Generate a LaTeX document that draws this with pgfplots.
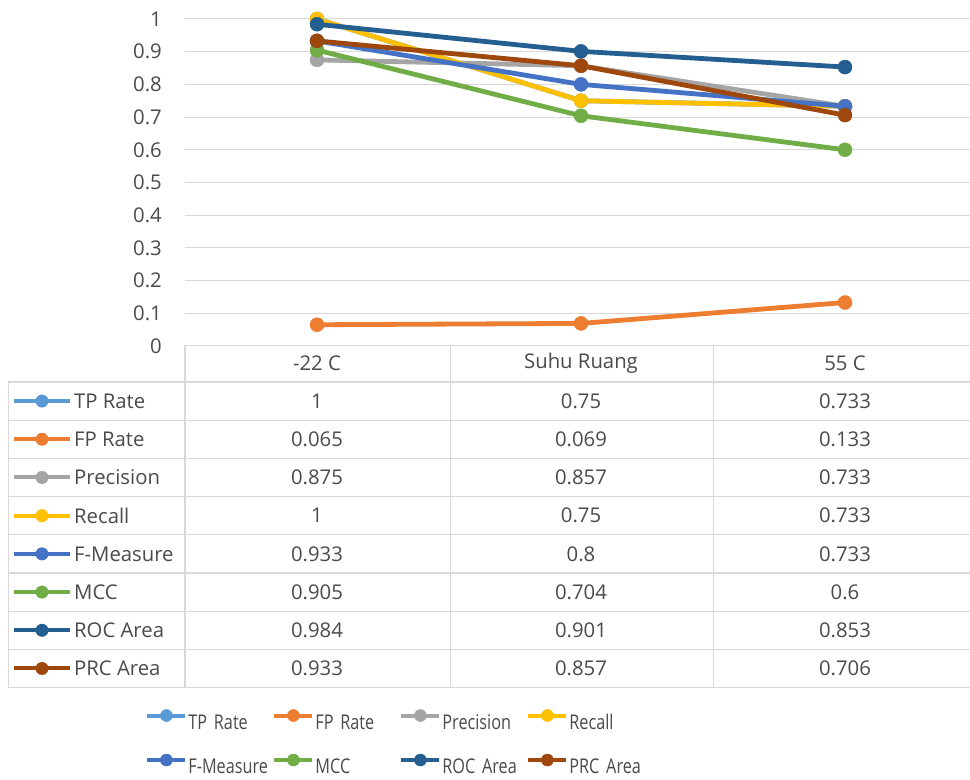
\documentclass[border=0pt]{standalone}
\usepackage{fontspec}
\setmainfont{Open Sans}
\newfontfamily\legfont[FakeStretch=0.8]{Open Sans}
\usepackage{pgfplots}
\usepackage{pgfplotstable}
\pgfplotsset{compat=1.18}

\definecolor{cTP}{HTML}{5B9BD5}
\definecolor{cFP}{HTML}{ED7D31}
\definecolor{cPrec}{HTML}{A5A5A5}
\definecolor{cRec}{HTML}{FFC000}
\definecolor{cF}{HTML}{4472C4}
\definecolor{cMCC}{HTML}{70AD47}
\definecolor{cROC}{HTML}{255E91}
\definecolor{cPRC}{HTML}{9E480E}
\definecolor{txt}{HTML}{4A4A4A}
\definecolor{gridc}{HTML}{D9D9D9}

% metrics per test condition (0 = -22 C, 1 = Suhu Ruang, 2 = 55 C)
\pgfplotstableread{
x TP FP Prec Rec F MCC ROC PRC
0 1 0.065 0.875 1 0.933 0.905 0.984 0.933
1 0.75 0.069 0.857 0.75 0.8 0.704 0.901 0.857
2 0.733 0.133 0.733 0.733 0.733 0.6 0.853 0.706
}\data

\begin{document}
\fontsize{20.3bp}{24bp}\selectfont
\begin{tikzpicture}[x=1bp,y=1bp]
\path[use as bounding box] (0,0) rectangle (970,780);
\begin{axis}[
  at={(185bp,434bp)}, anchor=south west,
  scale only axis, width=792bp, height=327bp,
  xmin=-0.5, xmax=2.5, ymin=0, ymax=1,
  clip=false,
  axis line style={draw=none},
  xtick=\empty,
  ytick={0,0.1,0.2,0.3,0.4,0.5,0.6,0.7,0.8,0.9,1},
  yticklabels={0,0.1,0.2,0.3,0.4,0.5,0.6,0.7,0.8,0.9,1},
  major tick length=0pt,
  ymajorgrids,
  grid style={draw=gridc, line width=1bp},
  yticklabel style={text=txt, anchor=east, inner sep=0pt, xshift=-23bp},
  every axis plot post/.append style={line width=4.8bp, line join=round,
    mark=*, mark size=7bp, mark options={solid, line width=0.5bp}},
  legend columns=4,
  legend cell align=left,
  legend image code/.code={\draw[mark repeat=2,mark phase=2,#1,
    line width=4bp, mark size=6bp, yshift=6bp]
    plot coordinates {(2bp,0bp) (21bp,0bp) (40bp,0bp)};},
  legend style={at={(axis description cs:-0.054,-1.105)}, anchor=north west,
    draw=none, fill=none, column sep=0pt, row sep=25bp,
    font=\legfont\fontsize{20.3bp}{24bp}\selectfont, text=txt,
    nodes={text width=83bp, inner xsep=1bp, inner ysep=0pt,
      text height=15bp, text depth=0bp, align=left}},
]
\addplot[color=cTP] table[x=x, y=TP] {\data};   \addlegendentry{TP Rate}
\addplot[color=cFP] table[x=x, y=FP] {\data};   \addlegendentry{FP Rate}
\addplot[color=cPrec] table[x=x, y=Prec] {\data}; \addlegendentry{Precision}
\addplot[color=cRec] table[x=x, y=Rec] {\data}; \addlegendentry{Recall}
\addplot[color=cF] table[x=x, y=F] {\data};     \addlegendentry{F-Measure}
\addplot[color=cMCC] table[x=x, y=MCC] {\data}; \addlegendentry{MCC}
\addplot[color=cROC] table[x=x, y=ROC] {\data}; \addlegendentry{ROC Area}
\addplot[color=cPRC] table[x=x, y=PRC] {\data}; \addlegendentry{PRC Area}
\end{axis}

% data table below the plot (y measured downward from the top edge)
\begin{scope}[draw=gridc, line width=1.2bp]
  \foreach \r in {382,420.2,458.4,496.6,534.8,573,611.2,649.4,687.6}
    \draw (8.3,780-\r) -- (980,780-\r);
  \foreach \c in {185,450.7,713.3}
    \draw (\c,780-345) -- (\c,780-687.6);
  \draw (8.3,780-382) -- (8.3,780-687.6);
\end{scope}

% column headers
\node[text=txt] at (317,780-363.5) {-22 C};
\node[text=txt] at (581,780-363.5) {Suhu Ruang};
\node[text=txt] at (845,780-363.5) {55 C};

% rows: key, name and the three values
\foreach \name/\col/\key [count=\i from 0] in
  {TP Rate/cTP/TP, FP Rate/cFP/FP, Precision/cPrec/Prec, Recall/cRec/Rec,
   F-Measure/cF/F, MCC/cMCC/MCC, ROC Area/cROC/ROC, PRC Area/cPRC/PRC}{
  \pgfmathsetmacro{\yy}{780-(382+38.2*(\i+0.5))}
  \draw[\col, line width=4bp] (14,\yy) -- (70,\yy);
  \fill[\col] (42,\yy) circle (6.5);
  \node[text=txt, anchor=west, inner sep=0pt] at (74,\yy) {\name};
  \foreach \rr/\cx in {0/317,1/581,2/845}{
    \pgfplotstablegetelem{\rr}{\key}\of\data
    \node[text=txt] at (\cx,\yy) {\pgfplotsretval};
  }
}
\end{tikzpicture}
\end{document}
